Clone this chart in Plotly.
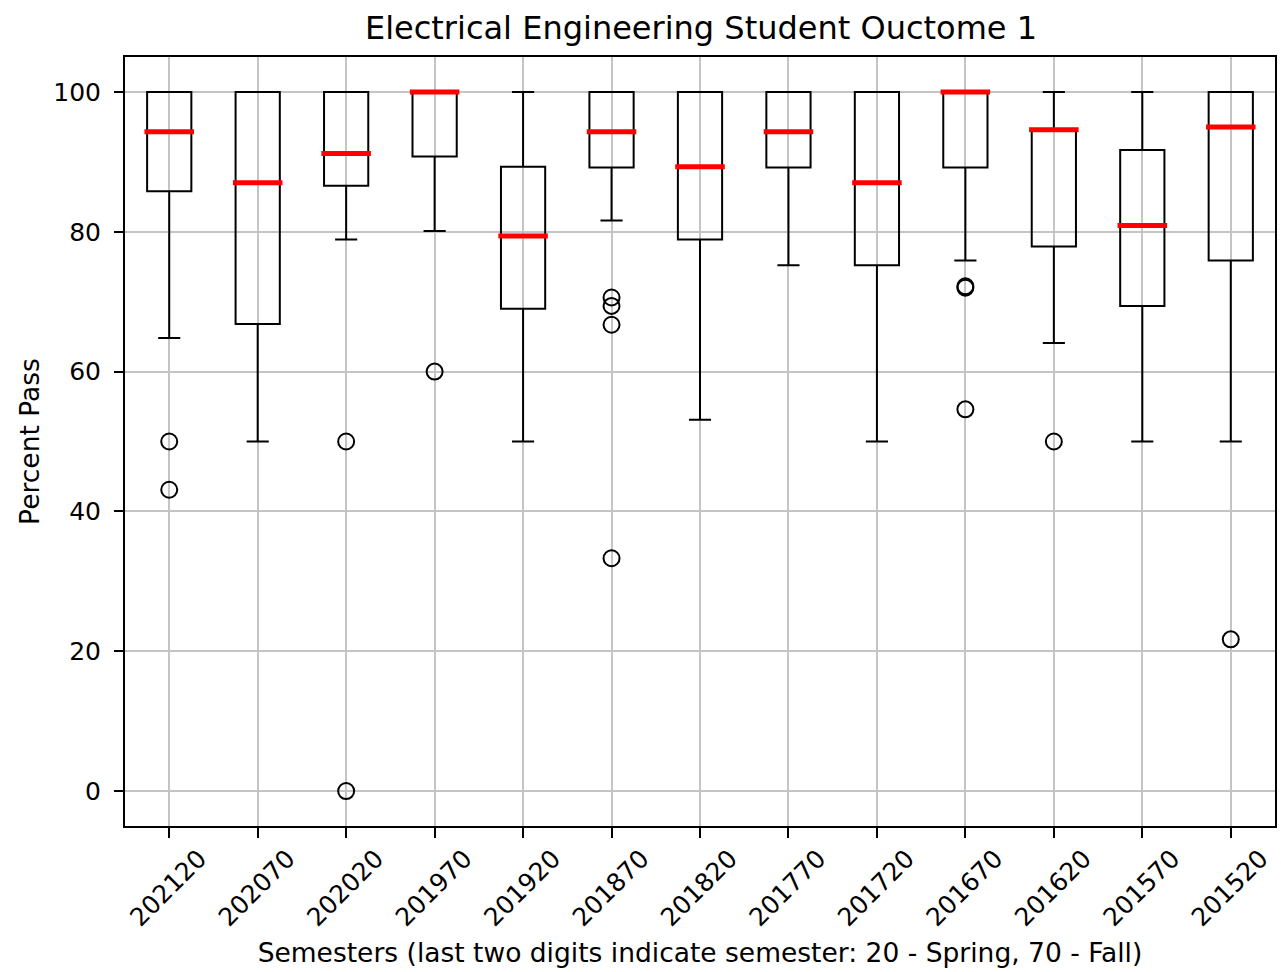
import plotly.graph_objects as go

semesters = ["202120", "202070", "202020", "201970", "201920", "201870", "201820",
             "201770", "201720", "201670", "201620", "201570", "201520"]
q1_vals = [85.8, 66.8, 86.6, 90.75, 69.0, 89.2, 78.9, 89.2, 75.2, 89.2, 77.9, 69.4, 75.9]
median_vals = [94.3, 87.0, 91.2, 100.0, 79.4, 94.3, 89.3, 94.3, 87.0, 100.0, 94.6, 80.9, 95.0]
q3_vals = [100.0, 100.0, 100.0, 100.0, 89.3, 100.0, 100.0, 100.0, 100.0, 100.0, 94.6, 91.7, 100.0]
lower_whisker = [64.8, 50.0, 78.9, 80.1, 50.0, 81.6, 53.1, 75.2, 50.0, 75.9, 64.1, 50.0, 50.0]
upper_whisker = [100.0, 100.0, 100.0, 100.0, 100.0, 100.0, 100.0, 100.0, 100.0, 100.0, 100.0, 100.0, 100.0]
outliers = {
    "202120": [50.0, 43.1],
    "202020": [50.0, 0.0],
    "201970": [60.0],
    "201870": [70.6, 69.4, 66.7, 33.3],
    "201670": [72.2, 72.0, 54.6],
    "201620": [50.0],
    "201520": [21.7],
}

positions = list(range(1, len(semesters) + 1))
FONT = "DejaVu Sans"

fig = go.Figure()

fig.add_trace(go.Box(
    x=positions, q1=q1_vals, median=median_vals, q3=q3_vals,
    lowerfence=lower_whisker, upperfence=upper_whisker,
    width=0.5, whiskerwidth=0.5, boxpoints=False,
    line=dict(color="black", width=2), fillcolor="rgba(0,0,0,0)",
    showlegend=False, hoverinfo="skip",
))

mx, my = [], []
half = 0.28
for p, m in zip(positions, median_vals):
    mx += [p - half, p + half, None]
    my += [m, m, None]
fig.add_trace(go.Scatter(x=mx, y=my, mode="lines",
                         line=dict(color="#ff0000", width=5),
                         showlegend=False, hoverinfo="skip"))

ox, oy = [], []
for p, s in zip(positions, semesters):
    for v in outliers.get(s, []):
        ox.append(p)
        oy.append(v)
fig.add_trace(go.Scatter(x=ox, y=oy, mode="markers",
                         marker=dict(symbol="circle-open", size=16, color="black",
                                     line=dict(width=2, color="black")),
                         showlegend=False, hoverinfo="skip"))

fig.update_layout(
    width=1281, height=972,
    margin=dict(l=125, r=4, t=57, b=146),
    paper_bgcolor="white", plot_bgcolor="white",
    font=dict(family=FONT, color="black", size=25),
    title=dict(text="Electrical Engineering Student Ouctome 1",
               x=(125 + 1277) / 2 / 1281, xanchor="center",
               y=1 - 28 / 972, yanchor="middle",
               font=dict(family=FONT, size=32, color="black")),
)
fig.update_xaxes(
    range=[0.5, 13.5], tickmode="array", tickvals=positions, ticktext=semesters,
    tickangle=-45, ticks="outside", ticklen=10, tickwidth=1.8, tickcolor="black",
    ticklabelshift=30, ticklabelstandoff=-4,
    showgrid=True, gridcolor="#c4c4c4", gridwidth=1.5,
    showline=True, linecolor="black", linewidth=2, mirror=True, zeroline=False,
    tickfont=dict(family=FONT, size=25),
    title=dict(text="Semesters (last two digits indicate semester: 20 - Spring, 70 - Fall)",
               font=dict(family=FONT, size=26.5), standoff=12),
)
fig.update_yaxes(
    range=[-5, 105], tickvals=[0, 20, 40, 60, 80, 100],
    ticks="outside", ticklen=9, tickwidth=1.8, tickcolor="black",
    ticklabelstandoff=8,
    showgrid=True, gridcolor="#c4c4c4", gridwidth=1.5,
    showline=True, linecolor="black", linewidth=2, mirror=True, zeroline=False,
    tickfont=dict(family=FONT, size=25),
    title=dict(text="Percent Pass", font=dict(family=FONT, size=26.5), standoff=6),
)

fig.write_html("out.html", config={"displayModeBar": False},
               post_script="document.body.style.margin='0px';")
